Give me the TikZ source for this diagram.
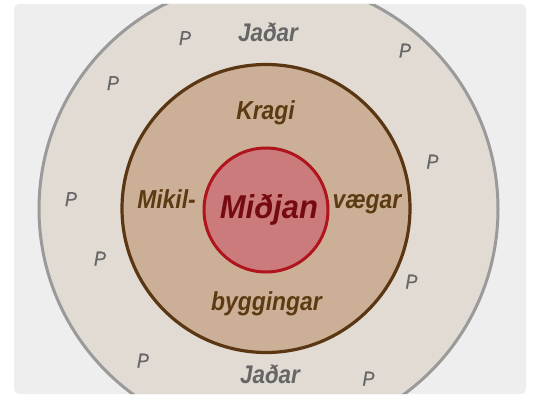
\documentclass[tikz,border=0pt]{standalone}
\usepackage{fontspec}
\setmainfont{Liberation Sans}
\newfontfamily\condfont[FakeStretch=0.88]{Liberation Sans}
\newfontfamily\corefont[FakeStretch=0.94]{Liberation Sans}
\newfontfamily\pfont[FakeStretch=0.9,FakeBold=0.7]{Liberation Sans}
\definecolor{bgc}{HTML}{EEEEEE}
\definecolor{outerfill}{HTML}{E2DBD4}
\definecolor{outerline}{HTML}{9A9A9A}
\definecolor{midfill}{HTML}{CBB097}
\definecolor{midline}{HTML}{5A3612}
\definecolor{innerfill}{HTML}{CC7B7C}
\definecolor{innerline}{HTML}{B0141C}
\definecolor{graytext}{HTML}{666666}
\definecolor{browntext}{HTML}{5C3A12}
\definecolor{redtext}{HTML}{750A12}
\begin{document}
\begin{tikzpicture}[x=1pt,y=-1pt,
  ring/.style={circle,inner sep=0pt,outer sep=0pt},
  ptext/.style={anchor=base,inner sep=0pt,text=graytext,font=\pfont\fontsize{20pt}{20pt}\selectfont\itshape},
  edgetext/.style={anchor=base,inner sep=0pt,text=graytext,font=\condfont\fontsize{25.5pt}{25.5pt}\selectfont\bfseries\itshape},
  midtext/.style={anchor=base,inner sep=0pt,text=browntext,font=\condfont\fontsize{26pt}{26pt}\selectfont\bfseries\itshape},
  coretext/.style={anchor=base,inner sep=0pt,text=redtext,font=\corefont\fontsize{33pt}{33pt}\selectfont\bfseries\itshape}]
\useasboundingbox (0,0) rectangle (533,396);
\fill[bgc,rounded corners=5pt] (14,4) rectangle (526,394);
\begin{scope}
  \clip[rounded corners=5pt] (14,4) rectangle (526,394);
  \node[ring,minimum size=459pt,fill=outerfill,draw=outerline,line width=3pt] (outer) at (268.5,209) {};
\end{scope}
\node[ring,minimum size=288pt,fill=midfill,draw=midline,line width=3.2pt] (mid) at (266,208.5) {};
\node[ring,minimum size=124pt,fill=innerfill,draw=innerline,line width=3pt] (core) at (266,210) {};

\node[edgetext] (jtop) at (268,41.5) {Jaðar};
\node[edgetext] (jbot) at (270,383) {Jaðar};
\node[midtext] (kragi) at (265.5,119.5) {Kragi};
\node[midtext] (mikil) at (166.5,208) {Mikil-};
\node[midtext] (vaegar) at (367,208) {vægar};
\node[midtext] (bygg) at (266.5,310) {byggingar};
\node[coretext] (midjan) at (269,218) {Miðjan};

\node[ptext] (p1) at (185,45) {P};
\node[ptext] (p2) at (113,90) {P};
\node[ptext] (p3) at (71,206) {P};
\node[ptext] (p4) at (100,265.5) {P};
\node[ptext] (p5) at (143,367.5) {P};
\node[ptext] (p6) at (405,57.5) {P};
\node[ptext] (p7) at (432.5,168.5) {P};
\node[ptext] (p8) at (411.5,288.5) {P};
\node[ptext] (p9) at (368.5,385.5) {P};
\end{tikzpicture}
\end{document}
